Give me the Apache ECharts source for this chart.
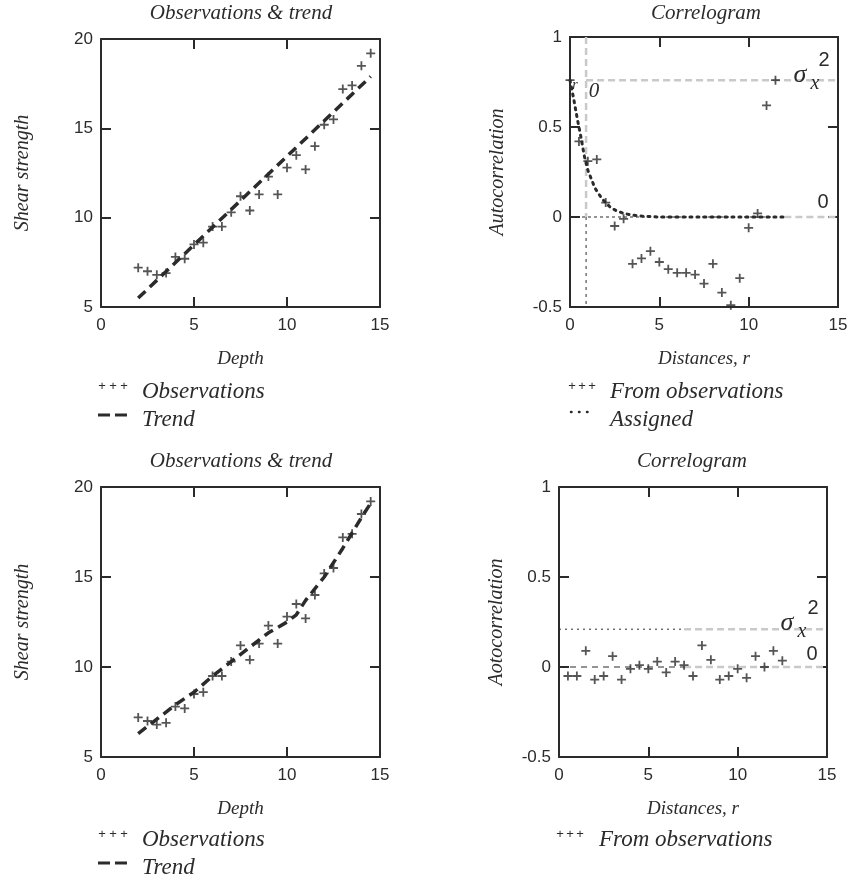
<!DOCTYPE html>
<html>
<head>
<meta charset="utf-8">
<script src="https://cdn.jsdelivr.net/npm/echarts@6/dist/echarts.min.js"></script>
<style>html,body{margin:0;padding:0;background:#fff}#c{width:853px;height:877px}</style>
</head>
<body>
<div id="c"></div>
<script>
// ---- data ----
const obsDepth = [2,2.5,3,3.5,4,4.5,5,5.5,6,6.5,7,7.5,8,8.5,9,9.5,10,10.5,11,11.5,12,12.5,13,13.5,14,14.5];
const obsStrength = [7.2,7.0,6.8,6.9,7.8,7.7,8.5,8.6,9.5,9.5,10.3,11.2,10.4,11.3,12.3,11.3,12.8,13.5,12.7,14.0,15.2,15.5,17.2,17.4,18.5,19.2];
const trendLinDepth = [2, 14.5];
const trendLinStrength = [5.5, 17.9];
const trendCurveDepth = [2,3,4,5,6,7,8,9,10,10.5,11,12,13,14,14.5];
const trendCurveStrength = [6.3,7.1,7.9,8.6,9.5,10.3,11.1,11.9,12.5,12.9,13.7,15.0,16.6,18.3,19.1];
const lagTop = [0,0.5,1,1.5,2,2.5,3,3.5,4,4.5,5,5.5,6,6.5,7,7.5,8,8.5,9,9.5,10,10.5,11,11.5];
const acfTop = [0.76,0.42,0.31,0.32,0.08,-0.05,-0.01,-0.26,-0.23,-0.19,-0.25,-0.29,-0.31,-0.31,-0.32,-0.37,-0.26,-0.42,-0.49,-0.34,-0.06,0.02,0.62,0.76];
const assignedLag = [0,0.2,0.4,0.6,0.8,1.0,1.2,1.4,1.6,1.8,2.0,2.3,2.6,3.0,3.5,4.0,5,6,7,8,9,10,11,12];
const assignedAcf = [0.76,0.66,0.55,0.45,0.34,0.26,0.21,0.16,0.13,0.10,0.08,0.05,0.035,0.02,0.01,0.005,0,0,0,0,0,0,0,0];
const lagBottom = [0.5,1,1.5,2,2.5,3,3.5,4,4.5,5,5.5,6,6.5,7,7.5,8,8.5,9,9.5,10,10.5,11,11.5,12,12.5];
const acfBottom = [-0.05,-0.05,0.09,-0.07,-0.05,0.06,-0.07,-0.01,0.01,-0.01,0.03,-0.03,0.03,0.01,-0.05,0.12,0.04,-0.07,-0.05,-0.01,-0.06,0.06,0.0,0.09,0.035];
const sigma2Top = 0.76;
const r0Top = 0.9;
const sigma2Bottom = 0.21;
const depthTicks = [0,5,10,15];
const strengthTicks = [5,10,15,20];
const corrTicks = [-0.5,0,0.5,1];

// ---- styling helpers ----
const INK = '#2b2b2b';
const GREY = '#c9c9c9';
const SERIF = '"Liberation Serif", "DejaVu Serif", serif';
const SANS = '"Liberation Sans", "DejaVu Sans", sans-serif';
const PLUS = 'path://M4,0H6V4H10V6H6V10H4V6H0V4H4Z';

const zip = (a,b) => a.map((v,i)=>[v,b[i]]);

const grids = [
  {left:101, top:39, width:279, height:268},
  {left:570, top:37, width:268, height:270},
  {left:101, top:487, width:279, height:270},
  {left:559, top:487, width:268, height:270}
];

function axisPair(kind, gi, min, max, interval, name, nameGap) {
  const base = {
    type:'value', gridIndex:gi, min:min, max:max, interval:interval,
    axisLine:{show:true, onZero:false, lineStyle:{color:INK, width:2}},
    axisTick:{show:true, inside:true, length:10, lineStyle:{color:INK, width:2}},
    splitLine:{show:false}
  };
  const main = Object.assign({}, base, {
    position: kind==='x' ? 'bottom' : 'left',
    name:name, nameLocation:'middle', nameGap:nameGap,
    nameTextStyle:{fontFamily:SERIF, fontStyle:'italic', fontSize: kind==='x'?19:20, color:INK},
    axisLabel:{show:true, fontFamily:SANS, fontSize:17, color:INK, margin: kind==='x'?10:8}
  });
  const mirror = Object.assign({}, base, {
    position: kind==='x' ? 'top' : 'right',
    axisLabel:{show:false}
  });
  return [main, mirror];
}

const xAxes = [].concat(
  axisPair('x',0,0,15,5,'Depth',42),
  axisPair('x',1,0,15,5,'Distances, r',42),
  axisPair('x',2,0,15,5,'Depth',42),
  axisPair('x',3,0,15,5,'Distances, r',42)
);
const yAxes = [].concat(
  axisPair('y',0,5,20,5,'Shear strength',68),
  axisPair('y',1,-0.5,1,0.5,'Autocorrelation',62),
  axisPair('y',2,5,20,5,'Shear strength',68),
  axisPair('y',3,-0.5,1,0.5,'Aotocorrelation',52)
);

function scatter(gi, data) {
  return {type:'scatter', xAxisIndex:gi*2, yAxisIndex:gi*2, data:data,
    symbol:PLUS, symbolSize:9, itemStyle:{color:INK}, z:5, silent:true};
}
function line(gi, data, color, width, dash, extra) {
  return Object.assign({type:'line', xAxisIndex:gi*2, yAxisIndex:gi*2, data:data,
    symbol:'none', silent:true, smooth:false,
    lineStyle:{color:color, width:width, type:dash, cap:'butt'}}, extra||{});
}

const series = [
  // top-left
  scatter(0, zip(obsDepth, obsStrength)),
  line(0, zip(trendLinDepth, trendLinStrength), INK, 3.5, [10,6], {z:4}),
  // bottom-left
  scatter(2, zip(obsDepth, obsStrength)),
  line(2, zip(trendCurveDepth, trendCurveStrength), INK, 3.5, [10,6], {z:4}),
  // top-right reference lines
  line(1, [[r0Top, sigma2Top],[15, sigma2Top]], GREY, 2.5, [7,4], {z:1}),
  line(1, [[r0Top, 1],[r0Top, 0]], GREY, 2.5, [7,4], {z:1}),
  line(1, [[r0Top, 0],[r0Top, -0.5]], INK, 1, [3,4], {z:2}),
  line(1, [[0, 0],[12, 0]], INK, 1, [3,3], {z:2}),
  line(1, [[12, 0],[15, 0]], GREY, 2.5, [7,4], {z:1}),
  line(1, zip(assignedLag, assignedAcf), INK, 3, [2,5], {z:3, lineStyle:{color:INK,width:3,type:[2,5],cap:'round'}}),
  scatter(1, zip(lagTop, acfTop)),
  // bottom-right reference lines
  line(3, [[0, sigma2Bottom],[7, sigma2Bottom]], INK, 1, [2,4], {z:2}),
  line(3, [[7, sigma2Bottom],[15, sigma2Bottom]], GREY, 2.5, [7,4], {z:1}),
  line(3, [[0, 0],[7, 0]], INK, 1.2, [6,5], {z:2}),
  line(3, [[7, 0],[15, 0]], GREY, 2.5, [7,4], {z:1}),
  scatter(3, zip(lagBottom, acfBottom))
];

// ---- text / legend graphics ----
function txt(x, y, text, font, align, extra) {
  return {type:'text', x:x, y:y, silent:true, z:100,
    style:Object.assign({text:text, font:font, fill:INK, textAlign:align||'left', textVerticalAlign:'middle'}, extra||{})};
}
function seg(x1,y1,x2,y2,w,dash,cap) {
  return {type:'line', silent:true, z:100, shape:{x1:x1,y1:y1,x2:x2,y2:y2},
    style:{stroke:INK, lineWidth:w, lineDash:dash||null, lineCap:cap||'butt'}};
}
function pluses(x0, y, step) {
  const f = '13px ' + SANS;
  return [txt(x0, y, '+', f, 'center'), txt(x0+step, y, '+', f, 'center'), txt(x0+2*step, y, '+', f, 'center')];
}
const titleFont = 'italic 21px ' + SERIF;
const legFont = 'italic 23px ' + SERIF;

const graphics = [].concat(
  [
    txt(241, 13, 'Observations & trend', titleFont, 'center'),
    txt(706, 13, 'Correlogram', titleFont, 'center'),
    txt(241, 461, 'Observations & trend', titleFont, 'center'),
    txt(692, 461, 'Correlogram', titleFont, 'center'),
    // top-left legend
    txt(142, 392, 'Observations', legFont),
    seg(98,415,110,415,3), seg(115,415,127,415,3),
    txt(142, 420, 'Trend', legFont),
    // top-right legend
    txt(610, 392, 'From observations', legFont),
    seg(571,412,592,412,2.5,[0.5,7.5],'round'),
    txt(610, 420, 'Assigned', legFont),
    // bottom-left legend
    txt(142, 840, 'Observations', legFont),
    seg(98,863,110,863,3), seg(115,863,127,863,3),
    txt(142, 868, 'Trend', legFont),
    // bottom-right legend
    txt(599, 840, 'From observations', legFont),
    // top-right annotations
    txt(575, 85, 'r', 'italic 14px ' + SERIF, 'center'),
    txt(594, 91, '0', 'italic 21px ' + SERIF, 'center'),
    txt(800, 75, 'σ', 'italic 26px ' + SERIF, 'center'),
    txt(815, 84, 'x', 'italic 20px ' + SERIF, 'center'),
    txt(824, 60, '2', '20px ' + SANS, 'center'),
    txt(823, 202, '0', '20px ' + SANS, 'center'),
    // bottom-right annotations
    txt(787, 623, 'σ', 'italic 26px ' + SERIF, 'center'),
    txt(802, 632, 'x', 'italic 20px ' + SERIF, 'center'),
    txt(813, 608, '2', '20px ' + SANS, 'center'),
    txt(812, 654, '0', '20px ' + SANS, 'center')
  ],
  pluses(102, 386, 11),
  pluses(572, 386, 10),
  pluses(102, 834, 11),
  pluses(560, 834, 10)
);

const chart = echarts.init(document.getElementById('c'), null, {renderer:'canvas'});
chart.setOption({
  animation:false,
  backgroundColor:'#ffffff',
  grid:grids,
  xAxis:xAxes,
  yAxis:yAxes,
  series:series,
  graphic:graphics
});
</script>
</body>
</html>
